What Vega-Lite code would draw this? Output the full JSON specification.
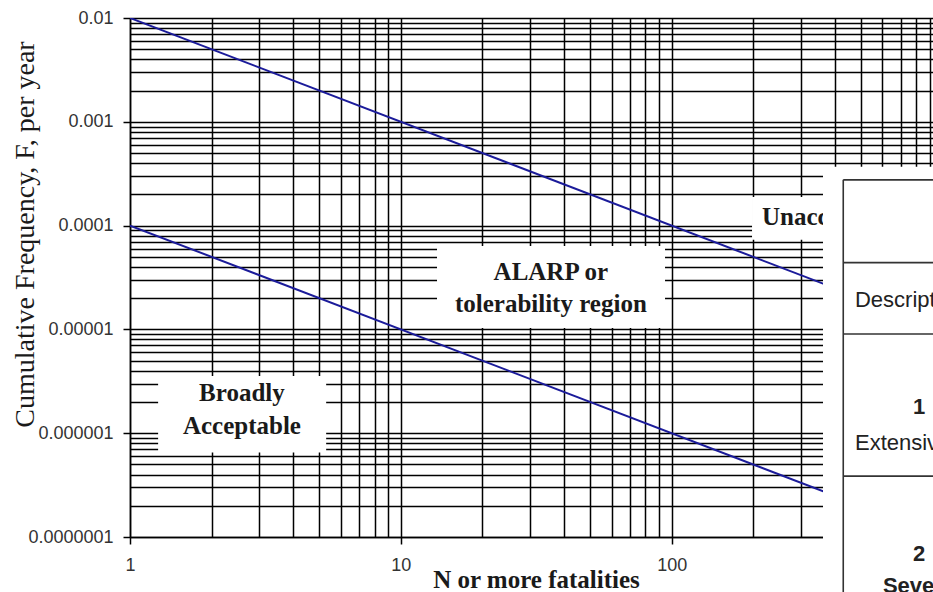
{
  "$schema": "https://vega.github.io/schema/vega-lite/v6.json",
  "width": 803,
  "height": 519,
  "autosize": {"type": "none"},
  "padding": {"left": 130, "top": 18, "right": 0, "bottom": 55},
  "background": "white",
  "config": {"view": {"stroke": null}},
  "datasets": {
    "criteria": [
      {"series": "upper", "N": 1, "F": 0.01},
      {"series": "upper", "N": 1000, "F": 0.00001},
      {"series": "lower", "N": 1, "F": 0.0001},
      {"series": "lower", "N": 1000, "F": 0.0000001}
    ],
    "zone_boxes": [
      {"zone": "broadly", "N1": 1.27, "N2": 5.3, "F1": 3.56e-6, "F2": 6.5e-7},
      {"zone": "alarp", "N1": 13.6, "N2": 94.5, "F1": 6.37e-5, "F2": 1.03e-5},
      {"zone": "unacceptable", "N1": 198, "N2": 600, "F1": 1.89e-4, "F2": 7.3e-5}
    ],
    "zone_labels": [
      {"text": "Broadly", "N": 2.59, "F": 2.05e-6},
      {"text": "Acceptable", "N": 2.59, "F": 9.8e-7},
      {"text": "ALARP or", "N": 35.8, "F": 2.99e-5},
      {"text": "tolerability region", "N": 35.8, "F": 1.48e-5}
    ],
    "zone_labels_left": [
      {"text": "Unacceptable", "N": 215.5, "F": 1.016e-4}
    ],
    "table_panel": [
      {"N1": 362, "N2": 5000, "F1": 3.68e-4, "F2": 1e-8}
    ],
    "table_rules": [
      {"N1": 430, "N2": 5000, "F1": 2.76e-4, "F2": 2.76e-4},
      {"N1": 430, "N2": 5000, "F1": 4.4e-5, "F2": 4.4e-5},
      {"N1": 430, "N2": 5000, "F1": 9.03e-6, "F2": 9.03e-6},
      {"N1": 430, "N2": 5000, "F1": 3.86e-7, "F2": 3.86e-7},
      {"N1": 430, "N2": 430, "F1": 2.76e-4, "F2": 1e-8}
    ],
    "table_text_left": [
      {"text": "Description", "N": 475, "F": 1.92e-5},
      {"text": "Extensive", "N": 475, "F": 8.04e-7}
    ],
    "table_text_center": [
      {"text": "1", "N": 819, "F": 1.79e-6},
      {"text": "2", "N": 819, "F": 6.82e-8},
      {"text": "Severe", "N": 819, "F": 3.35e-8}
    ]
  },
  "layer": [
    {
      "data": {"name": "criteria"},
      "mark": {"type": "line", "color": "#1b1b9a", "strokeWidth": 2, "clip": true},
      "encoding": {
        "x": {
          "field": "N", "type": "quantitative",
          "scale": {"type": "log", "domain": [1, 922.2], "nice": false},
          "axis": {
            "values": [1, 2, 3, 4, 5, 6, 7, 8, 9, 10, 20, 30, 40, 50, 60, 70, 80, 90, 100, 200, 300, 400, 500, 600, 700, 800, 900],
            "labelExpr": "abs(log(datum.value)/LN10 - round(log(datum.value)/LN10)) < 0.001 ? format(datum.value, '~f') : ''",
            "labelOverlap": false,
            "labelBound": false,
            "labelFlush": false,
            "labelFont": "Liberation Sans",
            "labelFontSize": 18,
            "labelColor": "#333333",
            "labelPadding": 12,
            "tickSize": 7,
            "tickColor": "#000000",
            "tickWidth": 1.5,
            "tickOpacity": {"condition": {"test": "abs(log(datum.value)/LN10 - round(log(datum.value)/LN10)) < 0.001", "value": 1}, "value": 0},
            "grid": true,
            "gridColor": "#000000",
            "gridWidth": 1.5,
            "gridOpacity": 1,
            "domainColor": "#000000",
            "domainWidth": 1.5,
            "title": "N or more fatalities",
            "titleFont": "Liberation Serif",
            "titleFontSize": 25,
            "titleFontWeight": "bold",
            "titleColor": "#1a1a1a",
            "titleX": 406,
            "titleY": 50,
            "titleBaseline": "alphabetic"
          }
        },
        "y": {
          "field": "F", "type": "quantitative",
          "scale": {"type": "log", "domain": [1e-7, 0.01], "nice": false},
          "axis": {
            "values": [1e-7, 2e-7, 3e-7, 4e-7, 5e-7, 6e-7, 7e-7, 8e-7, 9e-7,
                       1e-6, 2e-6, 3e-6, 4e-6, 5e-6, 6e-6, 7e-6, 8e-6, 9e-6,
                       1e-5, 2e-5, 3e-5, 4e-5, 5e-5, 6e-5, 7e-5, 8e-5, 9e-5,
                       1e-4, 2e-4, 3e-4, 4e-4, 5e-4, 6e-4, 7e-4, 8e-4, 9e-4,
                       0.001, 0.002, 0.003, 0.004, 0.005, 0.006, 0.007, 0.008, 0.009, 0.01],
            "labelExpr": "abs(log(datum.value)/LN10 - round(log(datum.value)/LN10)) < 0.001 ? format(datum.value, '.7~f') : ''",
            "labelOverlap": false,
            "labelBound": false,
            "labelFlush": false,
            "labelFont": "Liberation Sans",
            "labelFontSize": 18,
            "labelColor": "#333333",
            "labelPadding": 10,
            "tickSize": 7,
            "tickColor": "#000000",
            "tickWidth": 1.5,
            "tickOpacity": {"condition": {"test": "abs(log(datum.value)/LN10 - round(log(datum.value)/LN10)) < 0.001", "value": 1}, "value": 0},
            "grid": true,
            "gridColor": "#000000",
            "gridWidth": 1.5,
            "gridOpacity": 1,
            "domainColor": "#000000",
            "domainWidth": 1.5,
            "title": "Cumulative Frequency, F, per year",
            "titleFont": "Liberation Serif",
            "titleFontSize": 28,
            "titleFontWeight": "normal",
            "titleColor": "#1a1a1a",
            "titleX": -97,
            "titleY": 216,
            "titleAngle": 270,
            "titleAlign": "center",
            "titleBaseline": "alphabetic"
          }
        },
        "detail": {"field": "series"}
      }
    },
    {
      "data": {"name": "zone_boxes"},
      "mark": {"type": "rect", "fill": "white", "stroke": null},
      "encoding": {
        "x": {"field": "N1", "type": "quantitative", "scale": {"type": "log", "domain": [1, 922.2], "nice": false}},
        "x2": {"field": "N2"},
        "y": {"field": "F1", "type": "quantitative", "scale": {"type": "log", "domain": [1e-7, 0.01], "nice": false}},
        "y2": {"field": "F2"}
      }
    },
    {
      "data": {"name": "zone_labels"},
      "mark": {"type": "text", "font": "Liberation Serif", "fontSize": 25, "fontWeight": "bold", "color": "#1a1a1a", "align": "center", "baseline": "alphabetic"},
      "encoding": {
        "x": {"field": "N", "type": "quantitative", "scale": {"type": "log", "domain": [1, 922.2], "nice": false}},
        "y": {"field": "F", "type": "quantitative", "scale": {"type": "log", "domain": [1e-7, 0.01], "nice": false}},
        "text": {"field": "text"}
      }
    },
    {
      "data": {"name": "zone_labels_left"},
      "mark": {"type": "text", "font": "Liberation Serif", "fontSize": 25, "fontWeight": "bold", "color": "#1a1a1a", "align": "left", "baseline": "alphabetic"},
      "encoding": {
        "x": {"field": "N", "type": "quantitative", "scale": {"type": "log", "domain": [1, 922.2], "nice": false}},
        "y": {"field": "F", "type": "quantitative", "scale": {"type": "log", "domain": [1e-7, 0.01], "nice": false}},
        "text": {"field": "text"}
      }
    },
    {
      "data": {"name": "table_panel"},
      "mark": {"type": "rect", "fill": "white", "stroke": null},
      "encoding": {
        "x": {"field": "N1", "type": "quantitative", "scale": {"type": "log", "domain": [1, 922.2], "nice": false}},
        "x2": {"field": "N2"},
        "y": {"field": "F1", "type": "quantitative", "scale": {"type": "log", "domain": [1e-7, 0.01], "nice": false}},
        "y2": {"field": "F2"}
      }
    },
    {
      "data": {"name": "table_rules"},
      "mark": {"type": "rule", "color": "#333333", "strokeWidth": 1.6},
      "encoding": {
        "x": {"field": "N1", "type": "quantitative", "scale": {"type": "log", "domain": [1, 922.2], "nice": false}},
        "x2": {"field": "N2"},
        "y": {"field": "F1", "type": "quantitative", "scale": {"type": "log", "domain": [1e-7, 0.01], "nice": false}},
        "y2": {"field": "F2"}
      }
    },
    {
      "data": {"name": "table_text_left"},
      "mark": {"type": "text", "font": "Liberation Sans", "fontSize": 22, "color": "#222222", "align": "left", "baseline": "middle"},
      "encoding": {
        "x": {"field": "N", "type": "quantitative", "scale": {"type": "log", "domain": [1, 922.2], "nice": false}},
        "y": {"field": "F", "type": "quantitative", "scale": {"type": "log", "domain": [1e-7, 0.01], "nice": false}},
        "text": {"field": "text"}
      }
    },
    {
      "data": {"name": "table_text_center"},
      "mark": {"type": "text", "font": "Liberation Sans", "fontSize": 22, "fontWeight": "bold", "color": "#222222", "align": "center", "baseline": "middle"},
      "encoding": {
        "x": {"field": "N", "type": "quantitative", "scale": {"type": "log", "domain": [1, 922.2], "nice": false}},
        "y": {"field": "F", "type": "quantitative", "scale": {"type": "log", "domain": [1e-7, 0.01], "nice": false}},
        "text": {"field": "text"}
      }
    }
  ]
}
